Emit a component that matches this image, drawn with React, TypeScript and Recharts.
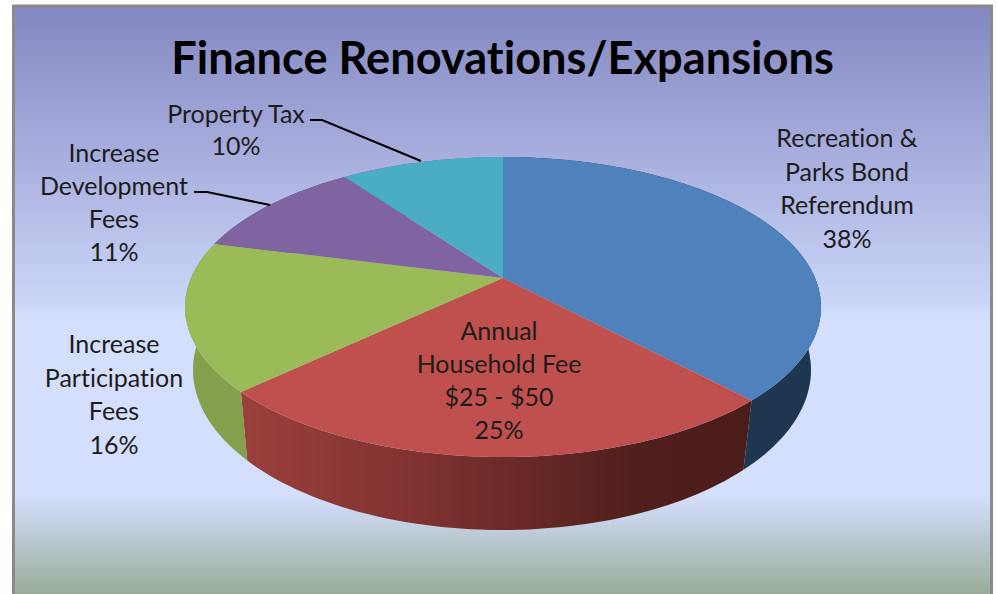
import React from "react";
import { PieChart, Pie, Cell } from "recharts";

const categories = [
  "Recreation & Parks Bond Referendum",
  "Annual Household Fee $25 - $50",
  "Increase Participation Fees",
  "Increase Development Fees",
  "Property Tax",
];
const values = [38, 25, 16, 11, 10];
const labelLines = [
  ["Recreation &", "Parks Bond", "Referendum"],
  ["Annual", "Household Fee", "$25 - $50"],
  ["Increase", "Participation", "Fees"],
  ["Increase", "Development", "Fees"],
  ["Property Tax"],
];
const titleText = "Finance Renovations/Expansions";

const topColors = ["#4f81bd", "#c0504d", "#9bbb59", "#8064a2", "#4bacc6"];
const wallColors = ["#1f3650", "url(#redWall)", "#85a04c", "#5d4776", "#327f93"];

const rows = categories.map((name, i) => ({ name, value: values[i] }));

// Placement of the labels (centre x, first baseline) and their leaders
const labelPlaces = [
  { x: 847, y: 147 },
  { x: 499, y: 340 },
  { x: 114, y: 353 },
  { x: 114, y: 162 },
  { x: 236, y: 123 },
];
const leaders: Record<number, string> = {
  3: "M194 192 L207 192 L270 205",
  4: "M310 120 L322 120 L421 161",
};
const lineSteps = [33.5, 33, 33.5, 33, 32];

// Perspective geometry of the tilted disc
const CX = 503;
const CY = 278;
const R = 318;
const TILT = 0.193;
const TOP = { dx: 0, dy: 29, rx: 318, ry: 150 };
const BOTTOM = { dx: -1, dy: 92, rx: 309, ry: 160 };

const project = (deg: number, e: typeof TOP, cx: number, cy: number) => {
  const t = ((90 - deg) * Math.PI) / 180;
  const sx = Math.sin(t);
  const sy = -Math.cos(t);
  const d = 1 - TILT * sy;
  const px = (sx * Math.sqrt(1 - TILT * TILT)) / d;
  const py = (sy - TILT) / d;
  return [cx + e.dx + e.rx * px, cy + e.dy + e.ry * py];
};

const arc = (a: number, b: number, e: typeof TOP, cx: number, cy: number) => {
  const n = Math.max(2, Math.ceil(Math.abs(a - b) / 1.5));
  const out: number[][] = [];
  for (let i = 0; i <= n; i++) out.push(project(a + ((b - a) * i) / n, e, cx, cy));
  return out;
};
const toPath = (pts: number[][]) =>
  pts.map((p, i) => `${i ? "L" : "M"}${p[0].toFixed(1)} ${p[1].toFixed(1)}`).join(" ");

const TopFace = (p: any) => {
  const pts = arc(p.startAngle, p.endAngle, TOP, p.cx, p.cy);
  return <path d={`M${p.cx} ${p.cy} ${toPath(pts).replace("M", "L")} Z`} fill={p.fill} stroke="none" />;
};
const Wall = (p: any) => {
  const upper = arc(p.startAngle, p.endAngle, TOP, p.cx, p.cy);
  const lower = arc(p.startAngle, p.endAngle, BOTTOM, p.cx, p.cy).reverse();
  return <path d={`${toPath([...upper, ...lower])} Z`} fill={p.fill} stroke="none" />;
};

const FONT = "Lato, 'Open Sans', sans-serif";

const renderLabel = (p: any) => {
  const i = p.index;
  const place = labelPlaces[i];
  const lines = [...labelLines[i], `${values[i]}%`];
  return (
    <g key={i}>
      {leaders[i] && <path d={leaders[i]} fill="none" stroke="#000" strokeWidth={2} />}
      <text
        textAnchor="middle"
        fontFamily={FONT}
        fontSize={25}
        fill="#1c1c1c"
        style={{ fontVariantLigatures: "none" }}
      >
        {lines.map((l, k) => (
          <tspan key={k} x={place.x} y={place.y + k * lineSteps[i]}>
            {l}
          </tspan>
        ))}
      </text>
    </g>
  );
};

export default function App() {
  return (
    <div style={{ position: "absolute", left: 0, top: 0, width: 998, height: 594, background: "#fff" }}>
      <PieChart width={998} height={594} margin={{ top: 0, right: 0, bottom: 0, left: 0 }}>
        <defs>
          <linearGradient id="bg" x1="0" y1="0" x2="0" y2="1">
            <stop offset="0" stopColor="#8387c2" />
            <stop offset="0.5" stopColor="#ccd6f8" />
            <stop offset="0.515" stopColor="#d4defd" />
            <stop offset="0.818" stopColor="#d4defd" />
            <stop offset="0.98" stopColor="#9aad99" />
          </linearGradient>
          <linearGradient id="redWall" gradientUnits="userSpaceOnUse" x1="243" y1="0" x2="750" y2="0">
            <stop offset="0" stopColor="#9a403c" />
            <stop offset="0.35" stopColor="#7f3230" />
            <stop offset="0.75" stopColor="#52201e" />
            <stop offset="1" stopColor="#4a1c1a" />
          </linearGradient>
        </defs>
        <rect x={13.5} y={6} width={978} height={600} fill="url(#bg)" stroke="#8a8a8a" strokeWidth={3} />
        <text
          x={502.5}
          y={74}
          textAnchor="middle"
          fontFamily={FONT}
          fontWeight={700}
          fontSize={45.2}
          fill="#000"
          style={{ fontVariantLigatures: "none" }}
        >
          {titleText}
        </text>
        <Pie
          data={rows}
          dataKey="value"
          nameKey="name"
          cx={CX}
          cy={CY}
          outerRadius={R}
          startAngle={90}
          endAngle={-270}
          stroke="none"
          isAnimationActive={false}
          shape={Wall}
          legendType="none"
        >
          {rows.map((_, i) => (
            <Cell key={i} fill={wallColors[i]} />
          ))}
        </Pie>
        <Pie
          data={rows}
          dataKey="value"
          nameKey="name"
          cx={CX}
          cy={CY}
          outerRadius={R}
          startAngle={90}
          endAngle={-270}
          stroke="none"
          isAnimationActive={false}
          shape={TopFace}
          label={renderLabel}
          labelLine={false}
          legendType="none"
        >
          {rows.map((_, i) => (
            <Cell key={i} fill={topColors[i]} />
          ))}
        </Pie>
      </PieChart>
    </div>
  );
}
